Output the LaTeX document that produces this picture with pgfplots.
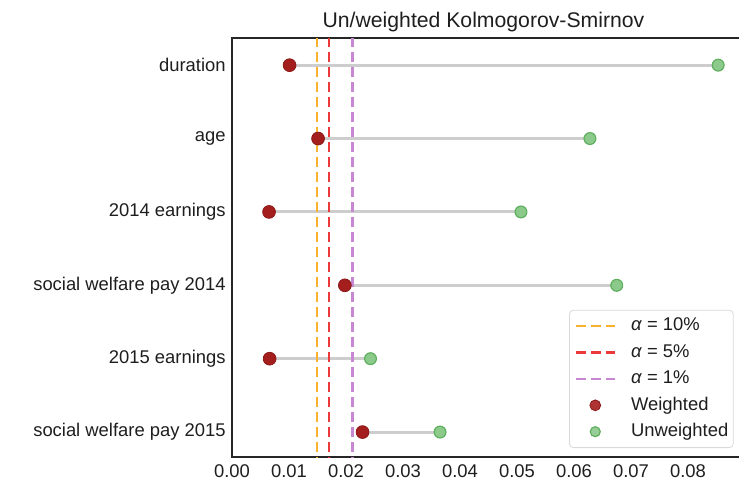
\documentclass[border=0pt]{standalone}
\usepackage{fontspec}
\setmainfont{Liberation Sans}
\usepackage{pgfplots}
\pgfplotsset{compat=1.18}
\usepackage{pgfplotstable}
\usetikzlibrary{calc}

\definecolor{wred}{RGB}{165,30,30}
\definecolor{ugfill}{RGB}{140,202,140}
\definecolor{ugedge}{RGB}{95,175,95}
\definecolor{aorange}{RGB}{250,178,45}
\definecolor{ared}{RGB}{236,58,58}
\definecolor{apurple}{RGB}{200,135,210}
\definecolor{seg}{RGB}{205,205,205}
\definecolor{frame}{RGB}{38,38,38}
\definecolor{txt}{RGB}{30,30,30}

\pgfplotsset{
  lineleg/.style={legend image code/.code={\draw[##1] (0pt,0pt) -- (19.5pt,0pt);}},
  markleg/.style={legend image code/.code={\draw[mark repeat=2,mark phase=2,##1] plot coordinates {(0pt,0pt) (9.75pt,0pt) (19.5pt,0pt)};}},
}

% row, weighted KS, unweighted KS
\pgfplotstableread{
y w u
0 0.0101 0.0853
1 0.0151 0.0628
2 0.0065 0.0507
3 0.0198 0.0675
4 0.0066 0.0243
5 0.0229 0.0365
}\ks

\begin{document}
\begin{tikzpicture}
\begin{axis}[
  name=ax,
  scale only axis,
  width=256.5pt, height=209.5pt,
  xmin=0, xmax=0.09,
  ymin=-0.37, ymax=5.34,
  y dir=reverse,
  xtick={0,0.01,0.02,0.03,0.04,0.05,0.06,0.07,0.08},
  xticklabel={\pgfmathprintnumber[fixed,fixed zerofill,precision=2,assume math mode=true]{\tick}},
  scaled x ticks=false,
  xticklabel style={inner sep=0pt, yshift=-3.4pt},
  ytick={0,1,2,3,4,5},
  yticklabels={duration, age, 2014 earnings, social welfare pay 2014, 2015 earnings, social welfare pay 2015},
  yticklabel style={inner sep=0pt, xshift=-3pt},
  major tick length=0pt,
  tick label style={font=\fontsize{9.2}{11}\selectfont, text=txt},
  /pgf/number format/assume math mode=true,
  axis line style={frame, line width=1.15pt},
  title={Un/weighted Kolmogorov-Smirnov},
  every axis title/.style={at={(0.5,1)}, anchor=base, yshift=5.5pt, xshift=-2.5pt,
    font=\fontsize{10.6}{12}\selectfont, text=txt},
  ylabel={Variable},
  every axis y label/.style={at={($(axis description cs:0,0.5)+(-108pt,0)$)}, rotate=90, anchor=center,
    font=\fontsize{9.2}{11}\selectfont, text=txt},
  legend cell align=left,
  legend style={at={(0.978,0.0215)}, anchor=south east, draw=black!15,
    rounded corners=2pt, fill=white, fill opacity=0.9, text opacity=1,
    font=\fontsize{9.2}{11}\selectfont, text=txt, inner xsep=2.5pt, inner ysep=3.8pt,
    row sep=4.9pt,
    nodes={inner sep=0pt, text height=6.5pt, text depth=1.8pt},
    /tikz/every odd column/.append style={column sep=7.5pt}},
]
% connecting segments
\addplot[seg, line width=1.45pt, forget plot] coordinates {(0.0101,0) (0.0853,0)};
\addplot[seg, line width=1.45pt, forget plot] coordinates {(0.0151,1) (0.0628,1)};
\addplot[seg, line width=1.45pt, forget plot] coordinates {(0.0065,2) (0.0507,2)};
\addplot[seg, line width=1.45pt, forget plot] coordinates {(0.0198,3) (0.0675,3)};
\addplot[seg, line width=1.45pt, forget plot] coordinates {(0.0066,4) (0.0243,4)};
\addplot[seg, line width=1.45pt, forget plot] coordinates {(0.0229,5) (0.0365,5)};

% points
\addplot[only marks, mark=*, mark size=3.2pt, mark options={fill=wred, draw=wred!85!black, line width=0.4pt}, forget plot]
  table[x=w, y=y] {\ks};
\addplot[only marks, mark=*, mark size=2.95pt, mark options={fill=ugfill, draw=ugedge, line width=0.6pt}, forget plot]
  table[x=u, y=y] {\ks};

% critical values
\addplot[aorange, line width=1.35pt, dash pattern=on 5pt off 2.5pt, lineleg]
  coordinates {(0.0149,-1) (0.0149,6)};
\addlegendentry{\textit{α} = 10\%}
\addplot[ared, line width=1.35pt, dash pattern=on 5pt off 2.5pt, lineleg]
  coordinates {(0.0170,-1) (0.0170,6)};
\addlegendentry{\textit{α} = 5\%}
\addplot[apurple, line width=1.35pt, dash pattern=on 5pt off 2.5pt, lineleg]
  coordinates {(0.0211,-1) (0.0211,6)};
\addlegendentry{\textit{α} = 1\%}

\addlegendimage{only marks, mark=*, mark size=2.7pt, mark options={fill=wred, draw=wred!85!black, line width=0.4pt}, markleg}
\addlegendentry{Weighted}
\addlegendimage{only marks, mark=*, mark size=2.5pt, mark options={fill=ugfill, draw=ugedge, line width=0.6pt}, markleg}
\addlegendentry{Unweighted}
\end{axis}
\pgfresetboundingbox
\path[use as bounding box] ($(ax.south west)+(-116pt,-11pt)$) rectangle ($(ax.south west)+(253.5pt,228.5pt)$);
\end{tikzpicture}
\end{document}
